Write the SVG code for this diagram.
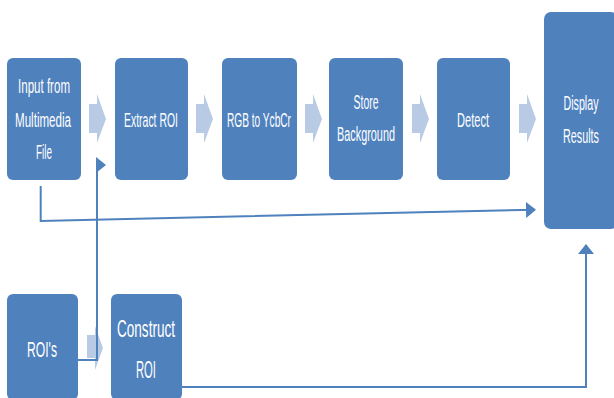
<svg xmlns="http://www.w3.org/2000/svg" width="614" height="398" viewBox="0 0 614 398">
<defs>
<style>
.box{fill:#4f81bd;}
.chev{fill:#b9cbe4;}
.t{font-family:"Liberation Sans",Arial,sans-serif;font-size:20.5px;fill:#ffffff;text-anchor:middle;}
.ln{fill:none;stroke:#4f81bd;stroke-width:2;}
</style>
<marker id="ah" markerUnits="userSpaceOnUse" markerWidth="12" markerHeight="18" refX="9" refY="8" orient="auto">
<path d="M0,0 L10,8 L0,16 Z" fill="#4f81bd"/>
</marker>
</defs>
<rect width="614" height="398" fill="#ffffff"/>
<g id="chevrons">
<path class="chev" d="M89,104 H97 V94 L106,119 L97,143 V133 H89 Z"/>
<path class="chev" d="M196,104 H204 V94 L213,119 L204,143 V133 H196 Z"/>
<path class="chev" d="M305,104 H313 V94 L322,119 L313,143 V133 H305 Z"/>
<path class="chev" d="M412,104 H420 V94 L429,119 L420,143 V133 H412 Z"/>
<path class="chev" d="M519,104 H527 V94 L536,119 L527,143 V133 H519 Z"/>
<path class="chev" d="M87,335 H95 V326 L103,348 L95,370 V358 H87 Z"/>
</g>
<g id="connectors">
<path class="ln" d="M40.7,186 V221 L535,209.7" stroke-width="2.5" marker-end="url(#ah)"/>
<path class="ln" d="M78,360 H97 V165 H105" stroke-width="1.8" marker-end="url(#ah)"/>
<path class="ln" d="M182,387 H586 V245" stroke-width="2" marker-end="url(#ah)"/>
</g>
<g id="input">
<rect class="box" x="7" y="58" width="74" height="122" rx="6"/>
<text class="t" x="44" y="93" textLength="52" lengthAdjust="spacingAndGlyphs">Input from</text>
<text class="t" x="43" y="127" textLength="56" lengthAdjust="spacingAndGlyphs">Multimedia</text>
<text class="t" x="44" y="159" textLength="16" lengthAdjust="spacingAndGlyphs">File</text>
</g>
<g id="extract">
<rect class="box" x="115" y="58" width="73" height="122" rx="6"/>
<text class="t" x="151" y="127" textLength="54" lengthAdjust="spacingAndGlyphs">Extract ROI</text>
</g>
<g id="rgb">
<rect class="box" x="222" y="58" width="75" height="122" rx="6"/>
<text class="t" x="259" y="127" textLength="64" lengthAdjust="spacingAndGlyphs">RGB to YcbCr</text>
</g>
<g id="store">
<rect class="box" x="329" y="58" width="74" height="122" rx="6"/>
<text class="t" x="366" y="109" textLength="25" lengthAdjust="spacingAndGlyphs">Store</text>
<text class="t" x="366" y="141" textLength="58" lengthAdjust="spacingAndGlyphs">Background</text>
</g>
<g id="detect">
<rect class="box" x="437" y="58" width="73" height="122" rx="6"/>
<text class="t" x="473" y="127" textLength="32" lengthAdjust="spacingAndGlyphs">Detect</text>
</g>
<g id="display">
<rect class="box" x="544" y="12" width="74" height="217" rx="7"/>
<text class="t" x="581" y="110" textLength="35" lengthAdjust="spacingAndGlyphs">Display</text>
<text class="t" x="581" y="143" textLength="36" lengthAdjust="spacingAndGlyphs">Results</text>
</g>
<g id="rois">
<rect class="box" x="7" y="294" width="71" height="106" rx="6"/>
<text class="t" x="42" y="357" textLength="30" lengthAdjust="spacingAndGlyphs" style="font-size:22px">ROI's</text>
</g>
<g id="construct">
<rect class="box" x="111" y="294" width="71" height="106" rx="6"/>
<text class="t" x="146" y="337" textLength="58" lengthAdjust="spacingAndGlyphs" style="font-size:23px">Construct</text>
<text class="t" x="146" y="378" textLength="20" lengthAdjust="spacingAndGlyphs" style="font-size:23px">ROI</text>
</g>
</svg>
